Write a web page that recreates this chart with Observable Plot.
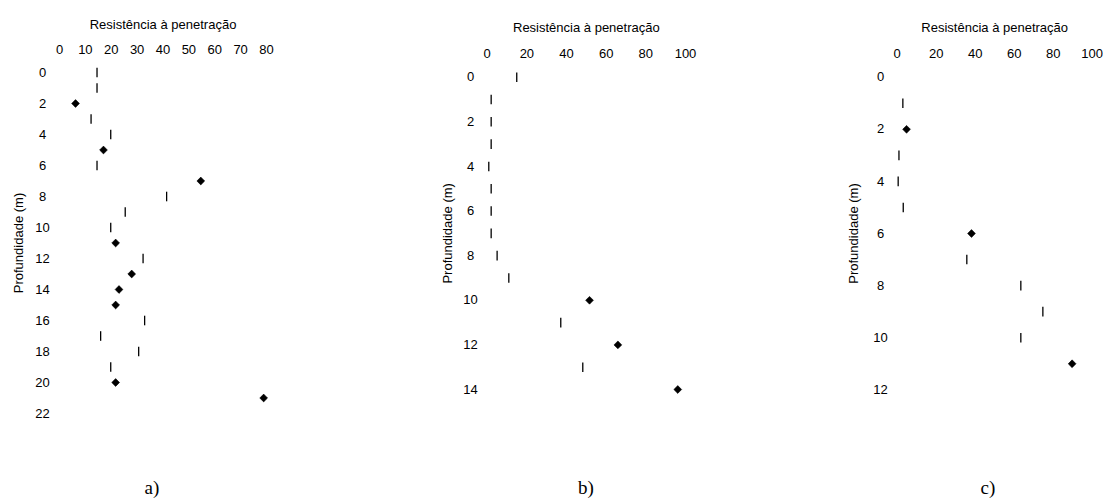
<!DOCTYPE html>
<html>
<head>
<meta charset="utf-8">
<script src="https://cdn.jsdelivr.net/npm/d3@7"></script>
<script src="https://cdn.jsdelivr.net/npm/@observablehq/plot@0.6"></script>
<style>
  html, body { margin: 0; padding: 0; background: #fff; }
  #root { position: relative; width: 1103px; height: 498px; overflow: hidden; background: #fff; }
  .panel { position: absolute; top: 0; }
  .cap { position: absolute; font-family: "Liberation Serif", "Times New Roman", serif; font-size: 19px; color: #000; transform: translate(-50%, -50%); }
</style>
</head>
<body>
<div id="root"></div>
<script>
// ---- data ----
const xTitle = "Resistência à penetração";
const yTitle = "Profundidade (m)";

// Panel a
const aDepth = [0, 1, 2, 3, 4, 5, 6, 7, 8, 9, 10, 11, 12, 13, 14, 15, 16, 17, 18, 19, 20, 21];
const aValue = [14.5, 14.5, 6.2, 12.2, 19.8, 17, 14.5, 54.6, 41.4, 25.4, 19.8, 21.7, 32.3, 27.9, 23, 21.7, 32.9, 15.9, 30.6, 19.8, 21.7, 78.9];
const aMarker = ["tick", "tick", "diamond", "tick", "tick", "diamond", "tick", "diamond", "tick", "tick", "tick", "diamond", "tick", "diamond", "diamond", "diamond", "tick", "tick", "tick", "tick", "diamond", "diamond"];
const aXTicks = [0, 10, 20, 30, 40, 50, 60, 70, 80];
const aYTicks = [0, 2, 4, 6, 8, 10, 12, 14, 16, 18, 20, 22];

// Panel b
const bDepth = [0, 1, 2, 3, 4, 5, 6, 7, 8, 9, 10, 11, 12, 13, 14];
const bValue = [14.9, 2, 2, 2, 0.8, 2, 2, 2, 5, 10.9, 51.6, 37.1, 65.9, 48.2, 96.1];
const bMarker = ["tick", "tick", "tick", "tick", "tick", "tick", "tick", "tick", "tick", "tick", "diamond", "tick", "diamond", "tick", "diamond"];
const bXTicks = [0, 20, 40, 60, 80, 100];
const bYTicks = [0, 2, 4, 6, 8, 10, 12, 14];

// Panel c
const cDepth = [1, 2, 3, 4, 5, 6, 7, 8, 9, 10, 11];
const cValue = [2.9, 4.8, 0.9, 0.5, 3.1, 38.1, 35.7, 63.4, 74.7, 63.4, 89.7];
const cMarker = ["tick", "diamond", "tick", "tick", "tick", "diamond", "tick", "tick", "tick", "tick", "diamond"];
const cXTicks = [0, 20, 40, 60, 80, 100];
const cYTicks = [0, 2, 4, 6, 8, 10, 12];

const captions = ["a)", "b)", "c)"];

// ---- drawing ----
const vbar = {
  draw(context, size) {
    const h = Math.sqrt(size / Math.PI);
    context.moveTo(0, -h);
    context.lineTo(0, h);
  }
};

function panel(cfg) {
  const rows = cfg.depth.map((d, i) => ({depth: d, value: cfg.value[i], marker: cfg.marker[i]}));
  return Plot.plot({
    width: cfg.width,
    height: cfg.height,
    marginLeft: cfg.ml,
    marginRight: cfg.mr,
    marginTop: cfg.mt,
    marginBottom: cfg.mb,
    style: {fontFamily: "'Liberation Sans', Arial, sans-serif", fontSize: "13px", color: "#000", background: "transparent", overflow: "visible"},
    x: {domain: [cfg.xTicks[0], cfg.xTicks[cfg.xTicks.length - 1]]},
    y: {domain: [cfg.yTicks[0], cfg.yTicks[cfg.yTicks.length - 1]], reverse: true},
    marks: [
      Plot.axisX({anchor: "top", ticks: cfg.xTicks, tickSize: 0, tickPadding: cfg.xPad, lineAnchor: "middle",
        label: xTitle, labelAnchor: "center", labelOffset: cfg.xlo, labelArrow: "none"}),
      Plot.axisY({anchor: "left", ticks: cfg.yTicks, tickSize: 0, tickPadding: cfg.yPad, textAnchor: "middle",
        label: yTitle, labelAnchor: "center", labelOffset: cfg.ylo, labelArrow: "none"}),
      Plot.dot(rows.filter(d => d.marker === "tick"), {x: "value", y: "depth", symbol: vbar, r: 4.8, stroke: "#000", strokeWidth: 1.3, fill: "none"}),
      Plot.dot(rows.filter(d => d.marker === "diamond"), {x: "value", y: "depth", symbol: "diamond2", r: 3.5, fill: "#000", stroke: "#000", strokeWidth: 0.6})
    ]
  });
}

const root = document.getElementById("root");
const panels = [
  {left: 0, width: 300, height: 440, ml: 59, mr: 34, mt: 72, mb: 27, xPad: 23, yPad: 17, xlo: 52.5, ylo: 46,
   depth: aDepth, value: aValue, marker: aMarker, xTicks: aXTicks, yTicks: aYTicks, cap: 152},
  {left: 420, width: 300, height: 440, ml: 66.7, mr: 35, mt: 76.7, mb: 51, xPad: 23.4, yPad: 16.7, xlo: 54.5, ylo: 44.7,
   depth: bDepth, value: bValue, marker: bMarker, xTicks: bXTicks, yTicks: bYTicks, cap: 586},
  {left: 830, width: 273, height: 440, ml: 66.7, mr: 11.3, mt: 76.7, mb: 50.7, xPad: 23.4, yPad: 16.7, xlo: 54.5, ylo: 48.7,
   depth: cDepth, value: cValue, marker: cMarker, xTicks: cXTicks, yTicks: cYTicks, cap: 988}
];
panels.forEach((cfg, i) => {
  const wrap = document.createElement("div");
  wrap.className = "panel";
  wrap.style.left = cfg.left + "px";
  wrap.appendChild(panel(cfg));
  root.appendChild(wrap);
  const cap = document.createElement("div");
  cap.className = "cap";
  cap.style.left = cfg.cap + "px";
  cap.style.top = "488px";
  cap.textContent = captions[i];
  root.appendChild(cap);
});
</script>
</body>
</html>
